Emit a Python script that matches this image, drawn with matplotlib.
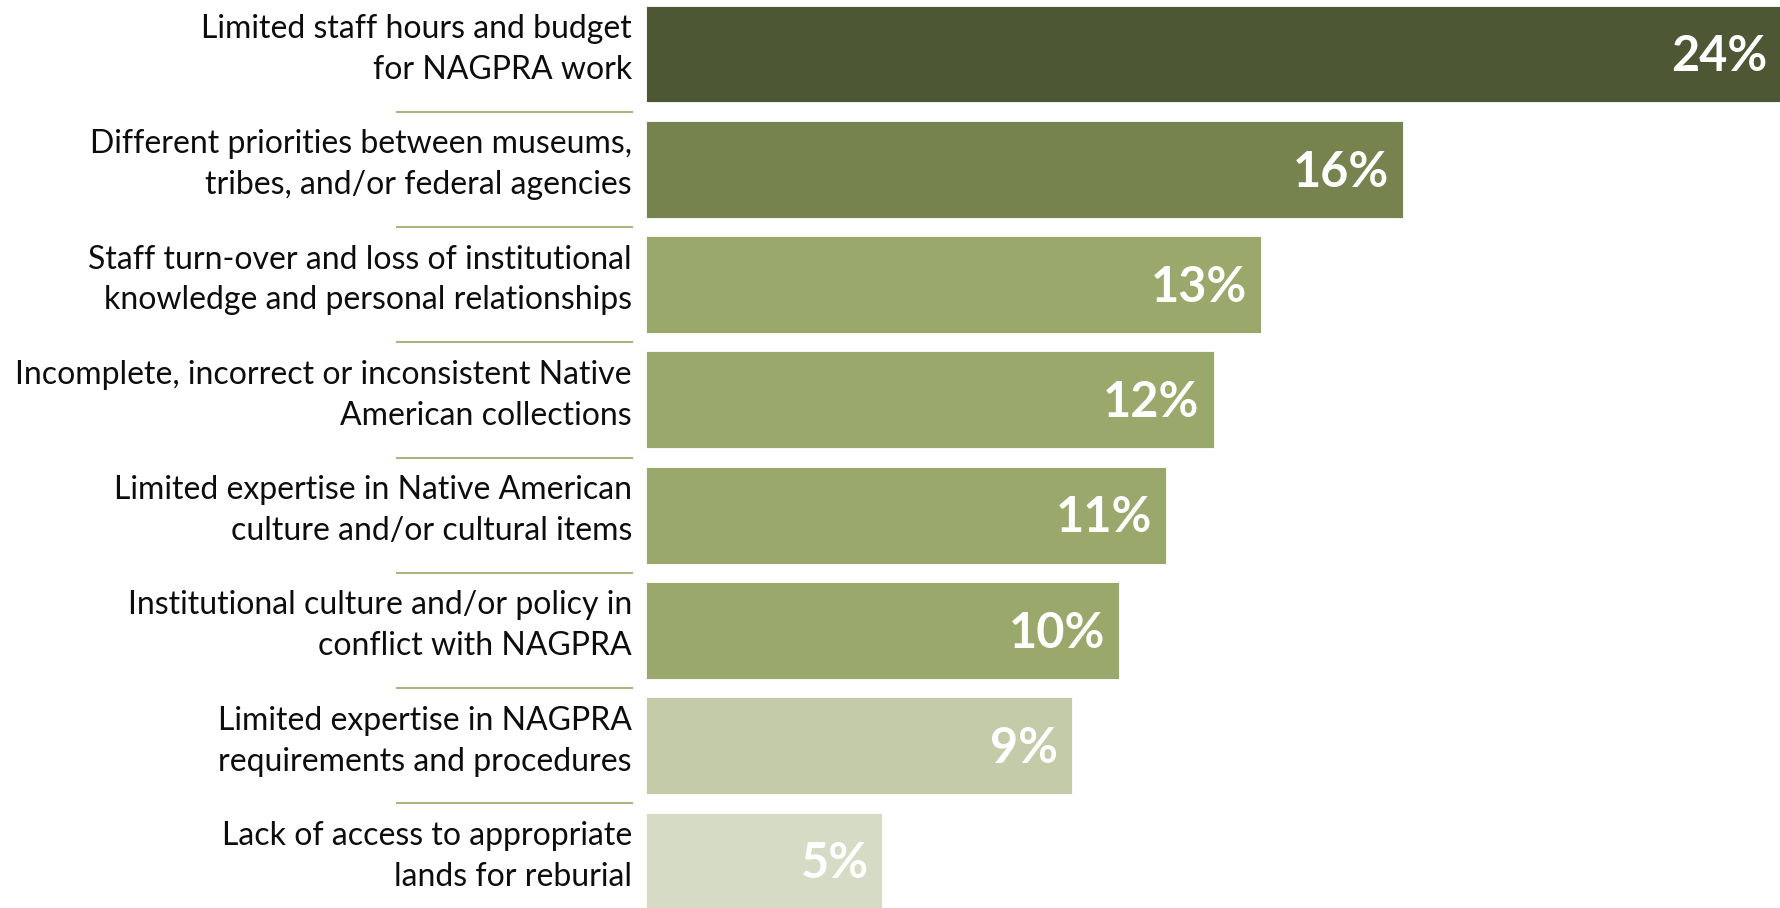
import matplotlib
matplotlib.use("Agg")
import matplotlib.pyplot as plt

labels = [
    "Limited staff hours and budget\nfor NAGPRA work",
    "Different priorities between museums,\ntribes, and/or federal agencies",
    "Staff turn-over and loss of institutional\nknowledge and personal relationships",
    "Incomplete, incorrect or inconsistent Native\nAmerican collections",
    "Limited expertise in Native American\nculture and/or cultural items",
    "Institutional culture and/or policy in\nconflict with NAGPRA",
    "Limited expertise in NAGPRA\nrequirements and procedures",
    "Lack of access to appropriate\nlands for reburial",
]
values = [24, 16, 13, 12, 11, 10, 9, 5]
colors = ["#4e5734", "#76834e", "#9aa86c", "#9aa86c",
          "#9aa86c", "#9aa86c", "#c3cba9", "#d6dbc5"]

W, H = 1781, 908
fig = plt.figure(figsize=(W / 100, H / 100), dpi=100, facecolor="white")
ax = fig.add_axes([646 / W, 0, 1 - 646 / W, 1])
ax.set_xlim(0, 24)
ax.set_ylim(7.407, -0.468)
ax.axis("off")

ys = list(range(len(values)))
ax.barh(ys, values, height=0.84, color=colors, edgecolor="white", linewidth=0.6)

for y, v in zip(ys, values):
    ax.annotate(f"{v}%", (v, y), xytext=(-10, -2), textcoords="offset points",
                ha="right", va="center", color="white", fontsize=35,
                fontweight="bold", family="Lato")

# category labels and thin separators in the left margin
trans = matplotlib.transforms.blended_transform_factory(fig.transFigure, ax.transData)
for y, lab in zip(ys, labels):
    ax.text(632 / W, y - 0.04, lab, transform=trans, ha="right", va="center",
            fontsize=23, family="Lato", color="#0d0d0d", linespacing=1.45)
for y in ys[:-1]:
    ax.plot([397 / W, 632 / W], [y + 0.5, y + 0.5], transform=trans,
            color="#a9b47f", lw=1.5, clip_on=False)

fig.savefig("out.png", dpi=100, facecolor="white")
